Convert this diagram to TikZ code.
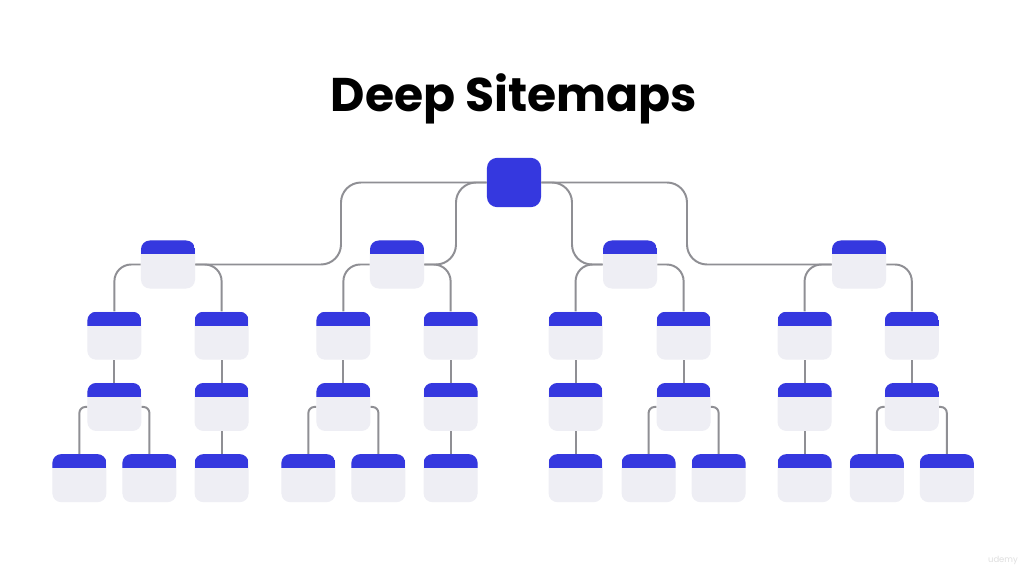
\documentclass[tikz,border=0pt]{standalone}
\usepackage{fontspec}
\setmainfont{Poppins}
\usetikzlibrary{positioning}
\definecolor{siteblue}{HTML}{3538DF}
\definecolor{pagegray}{HTML}{EEEEF4}
\definecolor{linkgray}{HTML}{8F8F94}
\begin{document}
\begin{tikzpicture}[x=0.025cm, y=-0.025cm, node distance=1.78cm,
  page/.style={rectangle, rounded corners=0.22cm, minimum width=1.35cm, minimum height=1.2cm, inner sep=0pt, fill=pagegray,
    path picture={\fill[siteblue, sharp corners] (path picture bounding box.north west) rectangle ([yshift=-0.35cm]path picture bounding box.north east);}},
  home/.style={rectangle, rounded corners=0.25cm, minimum width=1.35cm, minimum height=1.23cm, inner sep=0pt, fill=siteblue},
  branch/.style={draw=linkgray, line width=1.4pt}]
\useasboundingbox[fill=white] (0,0) rectangle (1026,578);

\node (title) at (514,99) {\fontsize{33.6}{38}\selectfont\bfseries Deep Sitemaps};
\node (mark) at (1003,560) {\fontsize{6}{7}\selectfont\color{gray!25}udemy};

\node (root) [home] at (514,182.5) {};
\node (secA) [page] at (168,264.5) {};
\node (secB) [page] at (397,264.5) {};
\node (secC) [page] at (630,264.5) {};
\node (secD) [page] at (859,264.5) {};

% second level
\node (a1) [page, below of=secA, xshift=-1.34cm] {};
\node (a2) [page, below of=secA, xshift=1.34cm] {};
\node (b1) [page, below of=secB, xshift=-1.34cm] {};
\node (b2) [page, below of=secB, xshift=1.34cm] {};
\node (c1) [page, below of=secC, xshift=-1.36cm] {};
\node (c2) [page, below of=secC, xshift=1.34cm] {};
\node (d1) [page, below of=secD, xshift=-1.36cm] {};
\node (d2) [page, below of=secD, xshift=1.32cm] {};

% third level
\node (a11) [page, below of=a1] {};
\node (a21) [page, below of=a2] {};
\node (b11) [page, below of=b1] {};
\node (b21) [page, below of=b2] {};
\node (c11) [page, below of=c1] {};
\node (c21) [page, below of=c2] {};
\node (d11) [page, below of=d1] {};
\node (d21) [page, below of=d2] {};

% leaves
\node (a111) [page, below of=a11, xshift=-0.875cm] {};
\node (a112) [page, below of=a11, xshift=0.875cm] {};
\node (a211) [page, below of=a21] {};
\node (b111) [page, below of=b11, xshift=-0.875cm] {};
\node (b112) [page, below of=b11, xshift=0.875cm] {};
\node (b211) [page, below of=b21] {};
\node (c111) [page, below of=c11] {};
\node (c211) [page, below of=c21, xshift=-0.875cm] {};
\node (c212) [page, below of=c21, xshift=0.875cm] {};
\node (d111) [page, below of=d11] {};
\node (d211) [page, below of=d21, xshift=-0.875cm] {};
\node (d212) [page, below of=d21, xshift=0.875cm] {};

% root to sections
\draw[branch, rounded corners=0.5cm] (root.west) -| (341,264.5) -- (secA.east);
\draw[branch, rounded corners=0.5cm] (root.west) -| (456,264.5) -- (secB.east);
\draw[branch, rounded corners=0.5cm] (root.east) -| (572,264.5) -- (secC.west);
\draw[branch, rounded corners=0.5cm] (root.east) -| (687,264.5) -- (secD.west);

% sections to pages
\foreach \s/\l/\r in {secA/a1/a2, secB/b1/b2, secC/c1/c2, secD/d1/d2} {
  \draw[branch, rounded corners=0.42cm] (\s.west) -| (\l.north);
  \draw[branch, rounded corners=0.42cm] (\s.east) -| (\r.north);
}
\foreach \p/\q in {a1/a11, a2/a21, b1/b11, b2/b21, c1/c11, c2/c21, d1/d11, d2/d21, a21/a211, b21/b211, c11/c111, d11/d111}
  \draw[branch] (\p.south) -- (\q.north);

% split pages
\foreach \p/\l/\r in {a11/a111/a112, b11/b111/b112, c21/c211/c212, d21/d211/d212} {
  \draw[branch, rounded corners=0.15cm] (\p.west) -| (\l.north);
  \draw[branch, rounded corners=0.15cm] (\p.east) -| (\r.north);
}
\end{tikzpicture}
\end{document}
